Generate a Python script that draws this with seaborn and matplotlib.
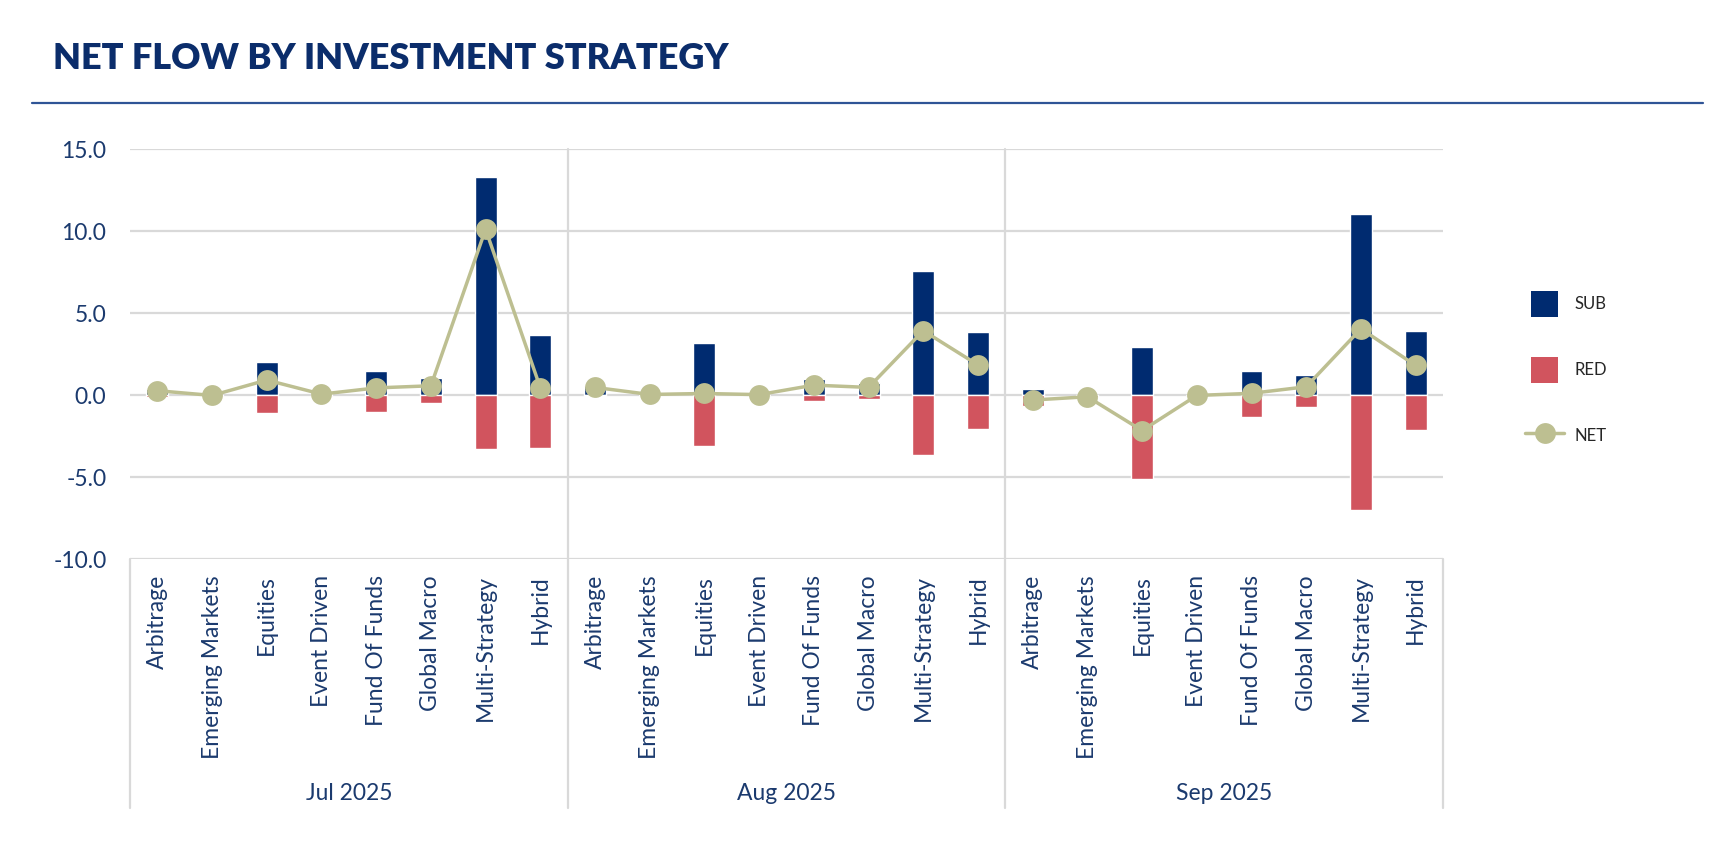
import matplotlib
matplotlib.use("Agg")
import matplotlib.pyplot as plt
from matplotlib.lines import Line2D
from matplotlib.patches import Patch, Rectangle
from matplotlib.legend_handler import HandlerPatch
import matplotlib.transforms as mtransforms
import seaborn as sns
import pandas as pd

# Dados (valores em milhões)
MONTHS = ["Jul 2025", "Aug 2025", "Sep 2025"]
STRATEGIES = ["Arbitrage", "Emerging Markets", "Equities", "Event Driven",
              "Fund Of Funds", "Global Macro", "Multi-Strategy", "Hybrid"]

SUB_JUL = [0.35, 0.0, 2.00, 0.05, 1.49, 1.06, 13.34, 3.67]
SUB_AUG = [0.55, 0.0, 3.20, 0.00, 0.98, 0.71, 7.58, 3.87]
SUB_SEP = [0.37, 0.0, 2.93, 0.00, 1.47, 1.22, 11.08, 3.91]

RED_JUL = [-0.10, -0.05, -1.10, 0.00, -1.06, -0.50, -3.26, -3.22]
RED_AUG = [-0.08, -0.02, -3.10, -0.02, -0.37, -0.26, -3.67, -2.04]
RED_SEP = [-0.67, -0.10, -5.09, -0.02, -1.36, -0.71, -7.03, -2.10]

NET_JUL = [0.27, -0.02, 0.92, 0.06, 0.44, 0.57, 10.12, 0.45]
NET_AUG = [0.47, 0.04, 0.10, 0.03, 0.61, 0.47, 3.93, 1.84]
NET_SEP = [-0.30, -0.10, -2.16, -0.02, 0.11, 0.51, 4.05, 1.81]

Y_TICKS = [-10, -5, 0, 5, 10, 15]

# Cores
SUB_COLOR = "#002B70"
RED_COLOR = "#D1545E"
NET_COLOR = "#BDBF91"
GRID_COLOR = "#D9D9D9"
TEXT_COLOR = "#1B3A6E"
TITLE_COLOR = "#0B2D6B"
RULE_COLOR = "#2F5496"

FONT = ["Lato", "DejaVu Sans"]

# Monta a tabela longa
rows = []
subs = [SUB_JUL, SUB_AUG, SUB_SEP]
reds = [RED_JUL, RED_AUG, RED_SEP]
nets = [NET_JUL, NET_AUG, NET_SEP]
for m, month in enumerate(MONTHS):
    for s, strat in enumerate(STRATEGIES):
        rows.append({"key": month + "|" + strat, "month": month, "strategy": strat,
                     "SUB": subs[m][s], "RED": reds[m][s], "NET": nets[m][s]})
df = pd.DataFrame(rows)
keys = list(df["key"])

sns.set_theme(style="white")
plt.rcParams["font.family"] = FONT

W, H = 1722, 860
fig = plt.figure(figsize=(W / 100, H / 100), dpi=100)

# área do gráfico em pixels
AX_L, AX_R, AX_T, AX_B = 130, 1443, 149.3, 559
ax = fig.add_axes([AX_L / W, 1 - AX_B / H, (AX_R - AX_L) / W, (AX_B - AX_T) / H])

sns.barplot(data=df, x="key", y="SUB", order=keys, color=SUB_COLOR,
            saturation=1, width=0.4, errorbar=None, ax=ax, zorder=2)
sns.barplot(data=df, x="key", y="RED", order=keys, color=RED_COLOR,
            saturation=1, width=0.4, errorbar=None, ax=ax, zorder=2)
sns.pointplot(data=df, x="key", y="NET", order=keys, hue="month",
              palette=[NET_COLOR] * len(MONTHS), markers="o", linestyles="-",
              errorbar=None, legend=False, markersize=15, linewidth=2.5,
              markeredgewidth=0, ax=ax, zorder=4)

ax.set_ylim(Y_TICKS[0], Y_TICKS[-1])
ax.set_xlim(-0.5, len(keys) - 0.5)
ax.set_yticks(Y_TICKS)
ax.set_yticklabels([f"{v:.1f}" for v in Y_TICKS])
ax.yaxis.grid(True, color=GRID_COLOR, linewidth=1.6, zorder=0)
ax.xaxis.grid(False)
ax.set_axisbelow(True)
for sp in ax.spines.values():
    sp.set_visible(False)

ax.set_xticks(range(len(keys)))
ax.set_xticklabels(list(df["strategy"]), rotation=90, va="top", ha="center")
ax.tick_params(axis="x", length=0, pad=11.5, labelsize=16.5, labelcolor=TEXT_COLOR)
ax.tick_params(axis="y", length=0, pad=17, labelsize=16.5, labelcolor=TEXT_COLOR)
ax.set_xlabel("")
ax.set_ylabel("")

# eixo de categorias em dois níveis
ax_h = AX_B - AX_T
bottom = -(808 - AX_B) / ax_h
trans = mtransforms.blended_transform_factory(ax.transData, ax.transAxes)
n = len(STRATEGIES)
edges = [i * n - 0.5 for i in range(len(MONTHS) + 1)]
for i, e in enumerate(edges):
    top = 1 if 0 < i < len(MONTHS) else 0
    ax.plot([e, e], [bottom, top], transform=trans, color=GRID_COLOR,
            linewidth=1.6, clip_on=False, zorder=1)
for m, month in enumerate(MONTHS):
    ax.text(m * n + (n - 1) / 2, -(793 - AX_B) / ax_h, month, transform=trans,
            ha="center", va="center", fontsize=16.5, color=TEXT_COLOR)

# título e linha
fig.text(53 / W, 1 - 69 / H, "NET FLOW BY INVESTMENT STRATEGY", fontsize=26,
         fontweight="heavy", color=TITLE_COLOR, va="baseline", ha="left")
fig.add_artist(Line2D([32 / W, 1703 / W], [1 - 103 / H, 1 - 103 / H],
                      color=RULE_COLOR, linewidth=1.6))


# legenda: quadrados menores que a linha do NET
def square_patch(legend, orig_handle, xdescent, ydescent, width, height, fontsize):
    side_w, side_h = 19.5, 18.5
    return Rectangle((width / 2 - side_w / 2 - xdescent, height / 2 - side_h / 2 - ydescent),
                     side_w, side_h)


handles = [Patch(facecolor=SUB_COLOR, edgecolor="none"),
           Patch(facecolor=RED_COLOR, edgecolor="none"),
           Line2D([], [], color=NET_COLOR, marker="o", markersize=15,
                  linewidth=2.5, markeredgewidth=0)]
fig.legend(handles, ["SUB", "RED", "NET"], loc="upper left",
           bbox_to_anchor=(1510 / W, 1 - 277 / H), frameon=False,
           fontsize=12, labelcolor="#262626", handlelength=2.35,
           handleheight=1.8, labelspacing=2.55, handletextpad=0.6,
           handler_map={Patch: HandlerPatch(patch_func=square_patch)})

fig.savefig("out.png", dpi=100)
